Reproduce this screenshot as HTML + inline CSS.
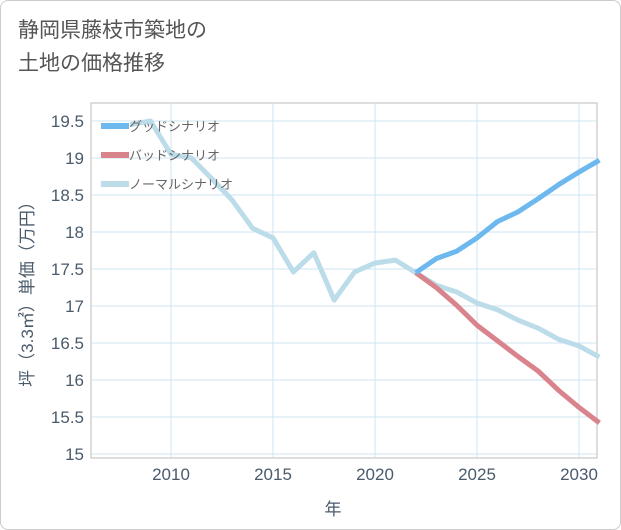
<!DOCTYPE html>
<html><head><meta charset="utf-8"><style>
body{margin:0;background:#fff;font-family:"Liberation Sans","Noto Sans CJK JP",sans-serif;}
#card{position:absolute;left:0;top:0;width:619px;height:528px;border:1px solid #ccc;border-radius:8px;background:#fff;}
#title{position:absolute;left:18px;top:14px;font-size:21px;line-height:33px;color:#555;}
</style></head><body>
<div id="card"></div>
<div id="title">静岡県藤枝市築地の<br>土地の価格推移</div>
<svg id="chart" width="621" height="530" style="position:absolute;left:0;top:0"></svg>
<script>
const years=[2008,2009,2010,2011,2012,2013,2014,2015,2016,2017,2018,2019,2020,2021,2022];
const histVals=[19.45,19.5,19.05,19.0,18.72,18.43,18.05,17.92,17.46,17.72,17.08,17.46,17.58,17.62,17.45];
const futYears=[2022,2023,2024,2025,2026,2027,2028,2029,2030,2031];
const goodVals=[17.45,17.64,17.74,17.92,18.14,18.27,18.45,18.64,18.81,18.97];
const badVals=[17.45,17.25,17.01,16.74,16.53,16.32,16.12,15.86,15.63,15.42];
const normVals=[17.45,17.28,17.19,17.04,16.95,16.81,16.70,16.55,16.46,16.31];
const yTicks=[15,15.5,16,16.5,17,17.5,18,18.5,19,19.5];
const xTicks=[2010,2015,2020,2025,2030];
const NS="http://www.w3.org/2000/svg";
const svg=document.getElementById('chart');
const L=91,R=597,T=103,B=458;
const x=v=>171+(v-2010)*20.4;
const y=v=>454-(v-15)*74;
const TC='#4a5b6c';
function mk(t,a){const e=document.createElementNS(NS,t);for(const k in a)e.setAttribute(k,a[k]);svg.appendChild(e);return e;}
let bg=mk('rect',{x:L,y:T,width:R-L,height:B-T,fill:'#fff',stroke:'#bbb'});


yTicks.forEach(v=>{
 let g=mk('line',{x1:L,x2:R,y1:y(v),y2:y(v),stroke:'#cfe3f0'});
 
 
 let t=mk('text',{x:84,y:y(v)+6,'text-anchor':'end','font-size':17,fill:TC});
 t.textContent=String(v);
 
 
});
xTicks.forEach(v=>{
 let g=mk('line',{x1:x(v),x2:x(v),y1:T,y2:B,stroke:'#cfe3f0'});
 
 
 let t=mk('text',{x:x(v),y:480,'text-anchor':'middle','font-size':17,fill:TC});
 t.textContent=String(v);
 
 
});
function line(xs,vs,c,n){
 let p=mk('polyline',{points:xs.map((a,i)=>x(a)+','+y(vs[i])).join(' '),fill:'none',stroke:c,'stroke-width':5,'stroke-linejoin':'round'});
 
 
}
const cG='#6cb8ef',cB='#d9848c',cN='#bcdcea';
line(years,histVals,cN,'history-line');
line(futYears,normVals,cN,'normal-scenario-line');
line(futYears,badVals,cB,'bad-scenario-line');
line(futYears,goodVals,cG,'good-scenario-line');
[['グッドシナリオ',cG],['バッドシナリオ',cB],['ノーマルシナリオ',cN]].forEach((d,i)=>{
 let yy=126+i*29;
 let r=mk('rect',{x:101,y:yy-3,width:28,height:6,fill:d[1]});
 
 
 let t=mk('text',{x:129,y:yy+5,'font-size':13,fill:'#666'});
 t.textContent=d[0];
 
 
});
let xt=mk('text',{x:333,y:515,'text-anchor':'middle','font-size':17,fill:TC});
xt.textContent='年';


let yt=mk('text',{x:0,y:0,'text-anchor':'middle','font-size':17,fill:TC,transform:'translate(33,290) rotate(-90)'});
yt.textContent='坪（3.3㎡）単価（万円）';


</script>
</body></html>
